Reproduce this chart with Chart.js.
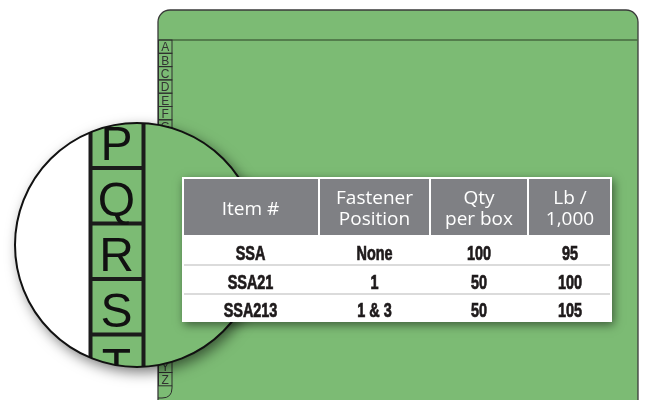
<!DOCTYPE html>
<html>
<head>
<meta charset="utf-8">
<script src="https://cdn.jsdelivr.net/npm/chart.js@4.4.1/dist/chart.umd.min.js"></script>
<style>
  html, body { margin: 0; padding: 0; background: #fff; }
  #wrap { width: 646px; height: 400px; position: relative; }
</style>
</head>
<body>
<div id="wrap"><canvas id="art"></canvas></div>
<script>
// ======================================================
// DATA
// ======================================================
const tabLetters = 'ABCDEFGHIJKLMNOPQRSTUVWXYZ'.split('');
const zoomLetters = ['P', 'Q', 'R', 'S', 'T'];
const tableHeaders = [['Item #'], ['Fastener', 'Position'], ['Qty', 'per box'], ['Lb /', '1,000']];
const itemNumbers = ['SSA', 'SSA21', 'SSA213'];
const fastenerPositions = ['None', '1', '1 & 3'];
const qtyPerBox = [100, 50, 50];
const lbPer1000 = [95, 100, 105];

const GREEN = '#7cbb74';
const HEADER_GRAY = '#7f8084';

// ======================================================
// DRAWING PLUGIN
// ======================================================
const folderArt = {
  id: 'folderArt',
  beforeDatasetsDraw(chart) {
    const ctx = chart.ctx;
    const X = v => chart.scales.x.getPixelForValue(v);
    const Y = v => chart.scales.y.getPixelForValue(v);

    // folder body
    ctx.save();
    ctx.beginPath();
    ctx.moveTo(X(158), Y(410));
    ctx.lineTo(X(158), Y(22));
    ctx.arcTo(X(158), Y(10), X(170), Y(10), 12);
    ctx.lineTo(X(626), Y(10));
    ctx.arcTo(X(638), Y(10), X(638), Y(22), 12);
    ctx.lineTo(X(638), Y(410));
    ctx.closePath();
    ctx.fillStyle = GREEN;
    ctx.fill();
    ctx.strokeStyle = '#3a3a3a';
    ctx.lineWidth = 1.3;
    ctx.stroke();

    ctx.beginPath();
    ctx.moveTo(X(158), Y(40));
    ctx.lineTo(X(638), Y(40));
    ctx.strokeStyle = '#46683f';
    ctx.lineWidth = 1.5;
    ctx.stroke();
    ctx.restore();

    // index strip A..Z
    const cellH = 13.3;
    ctx.save();
    ctx.strokeStyle = '#2e2e2e';
    ctx.lineWidth = 1;
    ctx.fillStyle = '#333';
    ctx.font = '12px "Liberation Sans", Arial, sans-serif';
    ctx.textAlign = 'center';
    ctx.textBaseline = 'alphabetic';
    tabLetters.forEach((l, i) => {
      const top = 40 + i * cellH;
      ctx.strokeRect(X(158.5), Y(top), X(172) - X(158.5), Y(top + cellH) - Y(top));
      ctx.fillText(l, X(165.2), Y(top + cellH - 2));
    });
    const endY = 40 + tabLetters.length * cellH;
    ctx.beginPath();
    ctx.moveTo(X(172), Y(endY));
    ctx.lineTo(X(172), Y(388));
    ctx.quadraticCurveTo(X(172), Y(398), X(162), Y(398));
    ctx.lineTo(X(158), Y(398));
    ctx.stroke();
    ctx.restore();

    // magnifier
    const cx = X(137), cy = Y(245), r = 122;
    ctx.save();
    ctx.shadowColor = 'rgba(0,0,0,0.55)';
    ctx.shadowBlur = 14;
    ctx.shadowOffsetX = 4;
    ctx.shadowOffsetY = 5;
    ctx.beginPath();
    ctx.arc(cx, cy, r, 0, Math.PI * 2);
    ctx.fillStyle = '#fff';
    ctx.fill();
    ctx.restore();

    ctx.save();
    ctx.beginPath();
    ctx.arc(cx, cy, r, 0, Math.PI * 2);
    ctx.clip();
    ctx.fillStyle = '#fff';
    ctx.fillRect(X(0), Y(100), X(300) - X(0), Y(400) - Y(100));
    ctx.fillStyle = GREEN;
    ctx.fillRect(X(90), Y(100), X(300) - X(90), Y(400) - Y(100));

    const zH = 55.5, zTop = 112.5;
    ctx.strokeStyle = '#1b1b1b';
    ctx.lineWidth = 4;
    ctx.beginPath();
    ctx.moveTo(X(90.5), Y(100)); ctx.lineTo(X(90.5), Y(400));
    ctx.moveTo(X(143.5), Y(100)); ctx.lineTo(X(143.5), Y(400));
    zoomLetters.forEach((l, i) => {
      const b = zTop + (i + 1) * zH;
      ctx.moveTo(X(90), Y(b)); ctx.lineTo(X(144), Y(b));
    });
    ctx.stroke();

    ctx.fillStyle = '#111';
    ctx.font = '48px "Liberation Sans", Arial, sans-serif';
    ctx.textAlign = 'center';
    ctx.textBaseline = 'alphabetic';
    zoomLetters.forEach((l, i) => {
      const b = zTop + (i + 1) * zH;
      ctx.fillText(l, X(116.5), Y(b - 8));
    });
    ctx.restore();

    ctx.save();
    ctx.beginPath();
    ctx.arc(cx, cy, r, 0, Math.PI * 2);
    ctx.strokeStyle = '#111';
    ctx.lineWidth = 2;
    ctx.stroke();
    ctx.restore();

    // spec table
    const tL = 182, tR = 612, tT = 177, hB = 235, tB = 322;
    const colEdges = [182, 319, 430, 528, 612];
    const rowBase = [260, 288.5, 316.5];
    const rowLines = [265, 294];

    ctx.save();
    ctx.shadowColor = 'rgba(0,0,0,0.5)';
    ctx.shadowBlur = 9;
    ctx.shadowOffsetX = 2;
    ctx.shadowOffsetY = 3;
    ctx.fillStyle = '#fff';
    ctx.fillRect(X(tL), Y(tT), X(tR) - X(tL), Y(tB) - Y(tT));
    ctx.restore();

    ctx.save();
    ctx.fillStyle = HEADER_GRAY;
    ctx.fillRect(X(tL), Y(tT), X(tR) - X(tL), Y(hB) - Y(tT));
    ctx.strokeStyle = '#fff';
    ctx.lineWidth = 2;
    ctx.beginPath();
    colEdges.slice(1, -1).forEach(c => {
      ctx.moveTo(X(c), Y(tT)); ctx.lineTo(X(c), Y(hB));
    });
    ctx.stroke();
    ctx.strokeRect(X(tL + 1), Y(tT + 1), X(tR - 1) - X(tL + 1), Y(tB - 1) - Y(tT + 1));

    ctx.strokeStyle = '#cfcfcf';
    ctx.lineWidth = 1.5;
    ctx.beginPath();
    rowLines.forEach(y => {
      ctx.moveTo(X(tL + 2), Y(y)); ctx.lineTo(X(tR - 2), Y(y));
    });
    ctx.stroke();

    ctx.textAlign = 'center';
    ctx.textBaseline = 'alphabetic';
    ctx.fillStyle = '#fff';
    ctx.font = '19px "Open Sans", "Noto Sans", sans-serif';
    tableHeaders.forEach((lines, i) => {
      const mid = (colEdges[i] + colEdges[i + 1]) / 2;
      if (lines.length === 1) {
        ctx.fillText(lines[0], X(mid), Y(214.5));
      } else {
        ctx.fillText(lines[0], X(mid), Y(204));
        ctx.fillText(lines[1], X(mid), Y(224.5));
      }
    });

    // body cells: bold text squeezed to a condensed width
    ctx.fillStyle = '#1e1a1b';
    ctx.strokeStyle = '#1e1a1b';
    ctx.lineWidth = 0.7;
    ctx.font = 'bold 19.5px "Liberation Sans", Arial, sans-serif';
    const columns = [itemNumbers, fastenerPositions, qtyPerBox, lbPer1000];
    columns.forEach((col, i) => {
      const mid = (colEdges[i] + colEdges[i + 1]) / 2;
      col.forEach((v, j) => {
        ctx.save();
        ctx.translate(X(mid), Y(rowBase[j]));
        ctx.scale(0.74, 1);
        ctx.fillText(String(v), 0, 0);
        ctx.strokeText(String(v), 0, 0);
        ctx.restore();
      });
    });
    ctx.restore();
  }
};

// ======================================================
// CHART
// ======================================================
const chart = new Chart(document.getElementById('art').getContext('2d'), {
  type: 'scatter',
  data: { datasets: [{ data: [], pointRadius: 0 }] },
  options: {
    responsive: true,
    maintainAspectRatio: false,
    animation: false,
    layout: { padding: 0 },
    plugins: { legend: { display: false }, tooltip: { enabled: false } },
    scales: {
      x: { type: 'linear', min: 0, max: 646, display: false },
      y: { type: 'linear', min: 0, max: 400, reverse: true, display: false }
    }
  },
  plugins: [folderArt]
});
</script>
</body>
</html>
